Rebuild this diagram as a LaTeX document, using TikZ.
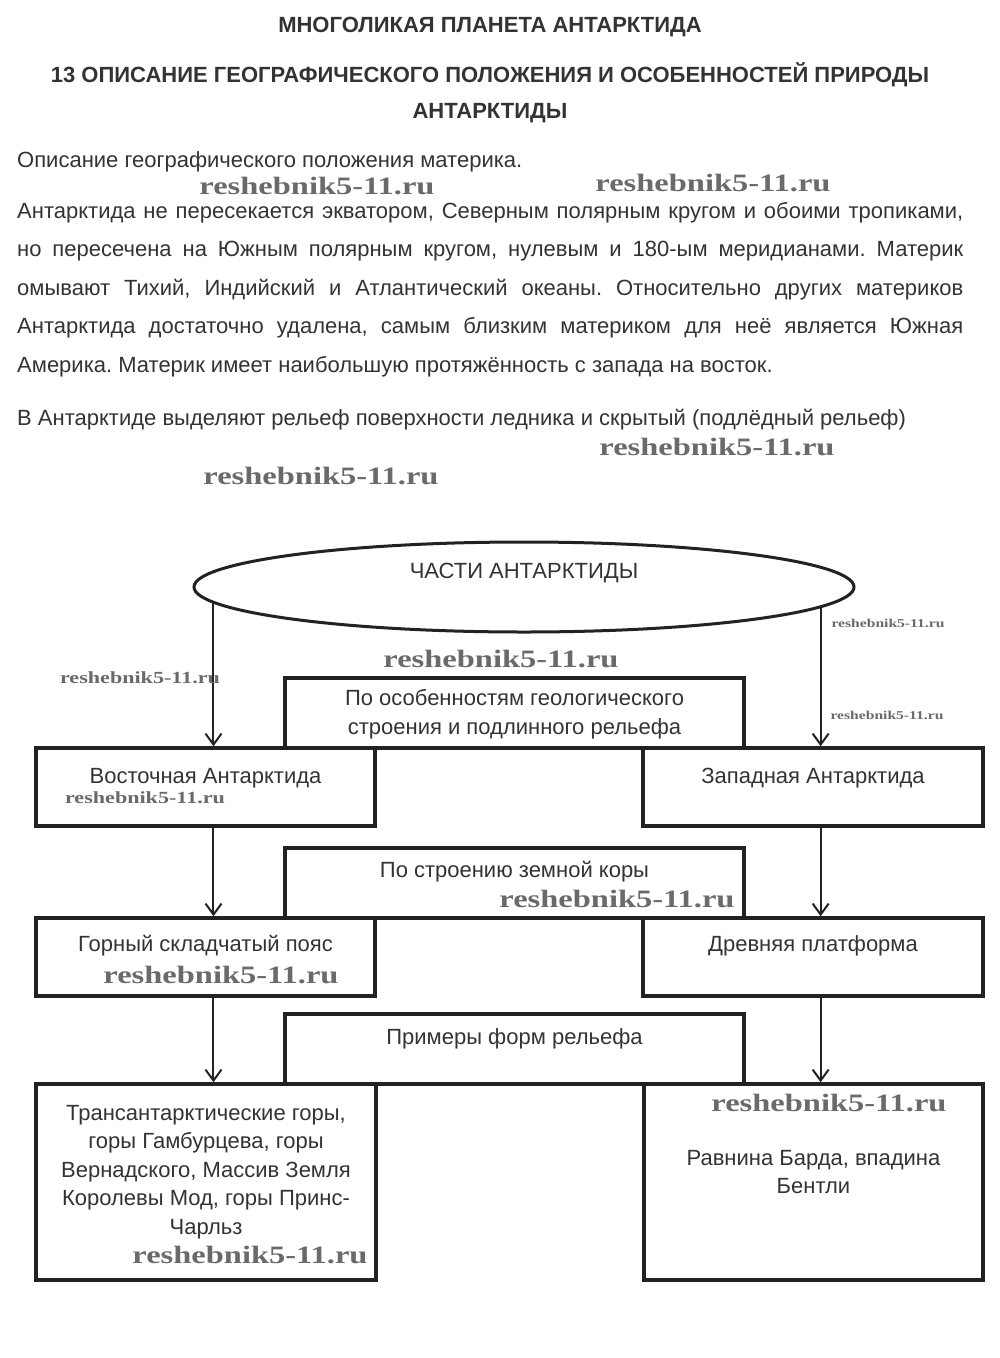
\documentclass[tikz,border=0pt]{standalone}
\usepackage{fontspec}
\setmainfont{Liberation Sans}
\newfontfamily\wmfont[FakeStretch=1.3]{Liberation Serif}
\usetikzlibrary{shapes.geometric, arrows.meta, positioning}

\definecolor{txtgray}{HTML}{333333}
\definecolor{linegray}{HTML}{222222}
\definecolor{wmgray}{HTML}{6A6A6A}

\tikzset{
  box/.style={draw=linegray, line width=3.5pt, rectangle, inner sep=0pt},
  oval/.style={draw=linegray, line width=3pt, ellipse, minimum width=660pt, minimum height=90pt, inner sep=0pt},
  lbl/.style={text=txtgray, font=\fontsize{22}{28.5}\selectfont, align=center, inner sep=0pt},
  body/.style={text=txtgray, font=\fontsize{22}{38.5}\selectfont, inner sep=0pt},
  headline/.style={text=txtgray, font=\bfseries\fontsize{22}{24}\selectfont, inner sep=0pt},
  arr/.style={draw=linegray, line width=2pt, -{Straight Barb[length=11pt,width=16pt]}},
  wm/.style={text=wmgray, font=\wmfont\bfseries\fontsize{25}{25}\selectfont, inner sep=0pt},
  wmsmall/.style={text=wmgray, font=\wmfont\bfseries\fontsize{12}{12}\selectfont, inner sep=0pt},
  wmmid/.style={text=wmgray, font=\wmfont\bfseries\fontsize{17}{17}\selectfont, inner sep=0pt},
}

\begin{document}
\frenchspacing
\begin{tikzpicture}[x=1pt, y=-1pt]
        \useasboundingbox[fill=white] (0,0) rectangle (1000,1358);

        % Заголовки
        \node[headline] (title1) at (490,27) {МНОГОЛИКАЯ ПЛАНЕТА АНТАРКТИДА};
        \node[headline] (title2) at (490,75) {13 ОПИСАНИЕ ГЕОГРАФИЧЕСКОГО ПОЛОЖЕНИЯ И ОСОБЕННОСТЕЙ ПРИРОДЫ};
        \node[headline] (title3) at (490,113) {АНТАРКТИДЫ};

        % Текст
        \node[body, anchor=west] (intro) at (17,162) {Описание географического положения материка.};
        \node[body, anchor=north west, text width=946pt, align=justify] (para) at (17,202)
          {\hyphenpenalty=10000 Антарктида не пересекается экватором, Северным полярным кругом и обоими тропиками,\linebreak
           но пересечена на Южным полярным кругом, нулевым и 180-ым меридианами. Материк\linebreak
           омывают Тихий, Индийский и Атлантический океаны. Относительно других материков\linebreak
           Антарктида достаточно удалена, самым близким материком для неё является Южная\linebreak
           Америка. Материк имеет наибольшую протяжённость с запада на восток.};
        \node[body, anchor=west] (relief) at (17,420) {В Антарктиде выделяют рельеф поверхности ледника и скрытый (подлёдный рельеф)};

        % Схема
        \node[oval] (parts) at (524,587) {};
        \node[lbl] (partstxt) at (524,573) {ЧАСТИ АНТАРКТИДЫ};

        \node[box, minimum width=459pt, minimum height=70pt] (geol) at (514.5,713) {};
        \node[lbl] (geoltxt) at (514.5,714) {По особенностям геологического\\строения и подлинного рельефа};
        \node[box, minimum width=339pt, minimum height=78pt] (vost) at (205.5,787) {};
        \node[lbl] (vosttxt) at (205.5,778) {Восточная Антарктида};
        \node[box, minimum width=340pt, minimum height=78pt] (zap) at (813,787) {};
        \node[lbl] (zaptxt) at (813,778) {Западная Антарктида};

        \node[box, minimum width=459pt, minimum height=70pt] (kora) at (514.5,883) {};
        \node[lbl] (koratxt) at (514.5,872) {По строению земной коры};
        \node[box, minimum width=339pt, minimum height=78pt] (gor) at (205.5,957) {};
        \node[lbl] (gortxt) at (205.5,946) {Горный складчатый пояс};
        \node[box, minimum width=340pt, minimum height=78pt] (drev) at (813,957) {};
        \node[lbl] (drevtxt) at (813,946) {Древняя платформа};

        \node[box, minimum width=459pt, minimum height=70pt] (prim) at (514.5,1049) {};
        \node[lbl] (primtxt) at (514.5,1039) {Примеры форм рельефа};
        \node[box, minimum width=340pt, minimum height=196pt] (trans) at (206,1182) {};
        \node[lbl] (transtxt) at (206,1172) {Трансантарктические горы,\\горы Гамбурцева, горы\\Вернадского, Массив Земля\\Королевы Мод, горы Принс-\\Чарльз};
        \node[box, minimum width=339pt, minimum height=196pt] (ravn) at (813.5,1182) {};
        \node[lbl] (ravntxt) at (813.5,1172) {Равнина Барда, впадина\\Бентли};

        % Стрелки
        \draw[arr] (parts.183.8) -- (parts.183.8 |- vost.north);
        \draw[arr] (parts.356.5) -- (parts.356.5 |- zap.north);
        \draw[arr] (vost.south -| parts.183.8) -- (gor.north -| parts.183.8);
        \draw[arr] (zap.south -| parts.356.5) -- (drev.north -| parts.356.5);
        \draw[arr] (gor.south -| parts.183.8) -- (trans.north -| parts.183.8);
        \draw[arr] (drev.south -| parts.356.5) -- (ravn.north -| parts.356.5);

        % Водяные знаки
        \node[wm] (wm1) at (317,186) {reshebnik5-11.ru};
        \node[wm] (wm2) at (713,183) {reshebnik5-11.ru};
        \node[wm] (wm3) at (717,447) {reshebnik5-11.ru};
        \node[wm] (wm4) at (321,476) {reshebnik5-11.ru};
        \node[wm] (wm5) at (501,659) {reshebnik5-11.ru};
        \node[wmsmall] (wm6) at (888,623) {reshebnik5-11.ru};
        \node[wmsmall] (wm7) at (887,715) {reshebnik5-11.ru};
        \node[wmmid] (wm8) at (140,678) {reshebnik5-11.ru};
        \node[wmmid] (wm9) at (145,798) {reshebnik5-11.ru};
        \node[wm] (wm10) at (617,899) {reshebnik5-11.ru};
        \node[wm] (wm11) at (221,975) {reshebnik5-11.ru};
        \node[wm] (wm12) at (829,1103) {reshebnik5-11.ru};
        \node[wm] (wm13) at (250,1255) {reshebnik5-11.ru};

\end{tikzpicture}
\end{document}
